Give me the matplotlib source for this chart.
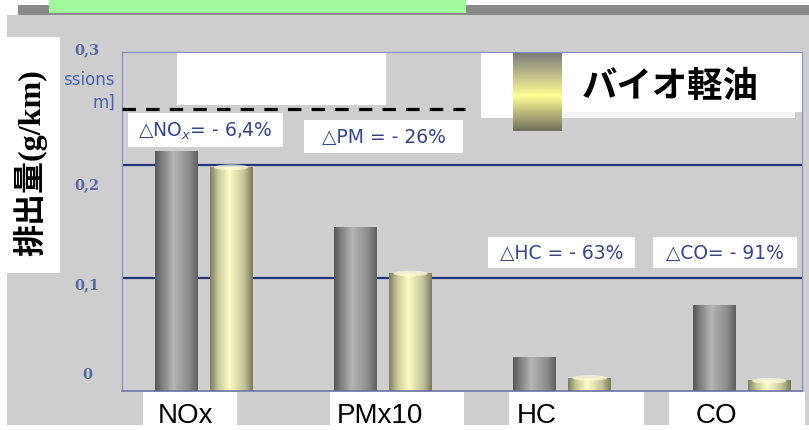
import numpy as np
import matplotlib
matplotlib.use("Agg")
import matplotlib.pyplot as plt
import matplotlib.transforms as mtransforms
from matplotlib.colors import LinearSegmentedColormap
from matplotlib.patches import Rectangle, Ellipse

# ---------------- data ----------------
categories = ["NOx", "PMx10", "HC", "CO"]
diesel = [0.212, 0.145, 0.030, 0.076]        # gray bars
bio_diesel = [0.198, 0.104, 0.0115, 0.009]   # yellow bars
bio_label = "バイオ軽油"
ylabel = "排出量(g/km)"
ytick_values = [0.1, 0.2]
ytick_labels = ["0", "0,1", "0,2", "0,3"]
limit_value = 0.25
delta_labels = ["△NO$_x$= - 6,4%", "△PM = - 26%", "△HC = - 63%", "△CO= - 91%"]

# ---------------- figure ----------------
W, H = 809, 430
fig = plt.figure(figsize=(W / 100, H / 100), dpi=100)
fig.patch.set_facecolor("white")

def pix_axes(z):
    a = fig.add_axes([0, 0, 1, 1], zorder=z)
    a.set_xlim(0, W)
    a.set_ylim(H, 0)
    a.axis("off")
    a.patch.set_alpha(0)
    return a

def rect(a, x0, y0, x1, y1, color, z=1):
    a.add_patch(Rectangle((x0, y0), x1 - x0, y1 - y0, facecolor=color,
                          edgecolor="none", zorder=z))

LG = "#cecece"
bg = pix_axes(0)
rect(bg, 7, 15, W, 425, LG)
rect(bg, 18, 5, W, 15, "#8a8a8a")
rect(bg, 49, 0, 466, 13, "#a2fa9c", z=2)
rect(bg, 0, 37, 60, 273, "white", z=2)
# white boxes behind category labels
for (x0, x1) in [(143, 237), (330, 464), (509, 644), (669, 805)]:
    rect(bg, x0, 392, x1, 430, "white", z=2)

# ---------------- main axes ----------------
ax = fig.add_axes([122 / W, (H - 391) / H, 680 / W, 339 / H], zorder=1)
ax.patch.set_alpha(0)
x = np.arange(len(categories))
spacing = 179.3
off = 27.5 / spacing
bw = 43 / spacing
xlim = (-(203.8 - 122) / spacing, 3 + (802 - 741.7) / spacing)

for yv in ytick_values:
    ax.axhline(yv, color="#25357a", lw=1.6, zorder=1)

ax.axhline(limit_value, xmin=0, xmax=0.505, color="black", lw=2.3,
           linestyle=(0, (4.2, 3.2)), zorder=3)

gray_cmap = LinearSegmentedColormap.from_list(
    "g", [(0, "#555555"), (0.15, "#7c7c7c"), (0.42, "#b4b4b4"), (0.8, "#8c8c8c"), (1, "#5e5e5e")])
yel_cmap = LinearSegmentedColormap.from_list(
    "y", [(0, "#7e7e60"), (0.2, "#caca9e"), (0.45, "#fdfdc6"), (0.8, "#c2c298"), (1, "#7a7a5c")])
grad = np.linspace(0, 1, 128)[np.newaxis, :]

b1 = ax.bar(x - off, diesel, width=bw, color="none", edgecolor="none")
b2 = ax.bar(x + off, bio_diesel, width=bw, color="none", edgecolor="none")
for bars, cmap in [(b1, gray_cmap), (b2, yel_cmap)]:
    for p in bars:
        bb = p.get_bbox()
        ax.imshow(grad, cmap=cmap, extent=(bb.x0, bb.x1, bb.y0, bb.y1),
                  aspect="auto", interpolation="bicubic", zorder=2)
# soft highlight on the tops of the yellow cylinders
for p in b2:
    bb = p.get_bbox()
    ax.add_patch(Ellipse(((bb.x0 + bb.x1) / 2, bb.y1), bb.width * 0.8, 0.005,
                         facecolor="#fbfbd8", edgecolor="none", alpha=0.7, zorder=2.5))

ax.set_xlim(*xlim)
ax.set_ylim(0, 0.3)
ax.set_yticks([])
ax.set_xticks([])
# category labels: left-aligned a little left of each group centre
lab_tr = mtransforms.blended_transform_factory(ax.transData, ax.transAxes) + \
    mtransforms.ScaledTranslation(-46 / 100, 0, fig.dpi_scale_trans)
for xi, cat in zip(x, categories):
    ax.text(xi, -0.035, cat, transform=lab_tr, fontsize=20, family="Liberation Sans",
            ha="left", va="top", clip_on=False)
for s in ["left", "top", "right"]:
    ax.spines[s].set_color("#8a90b8")
    ax.spines[s].set_linewidth(0.9)
ax.spines["bottom"].set_color("#6670a6")
ax.spines["bottom"].set_linewidth(1.1)

# ---------------- overlay ----------------
ov = pix_axes(2)
rect(ov, 177, 53, 386, 105, "white")
rect(ov, 481, 53, 802, 112, "white")
rect(ov, 481, 112, 513, 118, "white")
rect(ov, 562, 112, 795, 118, "#f4f4f4")
sw_cmap = LinearSegmentedColormap.from_list(
    "s", [(0, "#7c7c7c"), (0.55, "#ffff96"), (1, "#6e6e5a")])
ov.imshow(np.linspace(0, 1, 128)[:, np.newaxis], cmap=sw_cmap,
          extent=(513, 562, 131, 53), aspect="auto", interpolation="bicubic", zorder=3)
ov.set_xlim(0, W)
ov.set_ylim(H, 0)
ov.text(670, 87, bio_label, fontsize=25.5, fontweight="bold", color="black",
        family=["Noto Sans CJK JP"], ha="center", va="center", zorder=4)

boxes = [(128, 113, 283, 147), (304, 120, 463, 153), (488, 237, 635, 268), (653, 237, 797, 268)]
for (x0, y0, x1, y1), t in zip(boxes, delta_labels):
    rect(ov, x0, y0, x1, y1, "white")
    ov.text((x0 + x1) / 2, (y0 + y1) / 2 + 1, t, fontsize=13.5, color="#34468c",
            family="DejaVu Sans", ha="center", va="center", zorder=4)

for t, yy in zip(ytick_labels, [375, 285, 185, 50]):
    ov.text(87, yy, t, fontsize=10.5, fontweight="bold", color="#5868a8",
            family="DejaVu Serif", ha="center", va="center")
ov.text(115, 80, "ssions", fontsize=12, color="#4862b0", family="DejaVu Sans",
        ha="right", va="center")
ov.text(115, 103, "m]", fontsize=12, color="#4862b0", family="DejaVu Sans",
        ha="right", va="center")

ov.text(30, 163, ylabel, rotation=90, fontsize=23, fontweight="bold", color="black",
        family=["Liberation Serif", "Noto Sans CJK JP"], ha="center", va="center")

fig.savefig("out.png", dpi=100)
